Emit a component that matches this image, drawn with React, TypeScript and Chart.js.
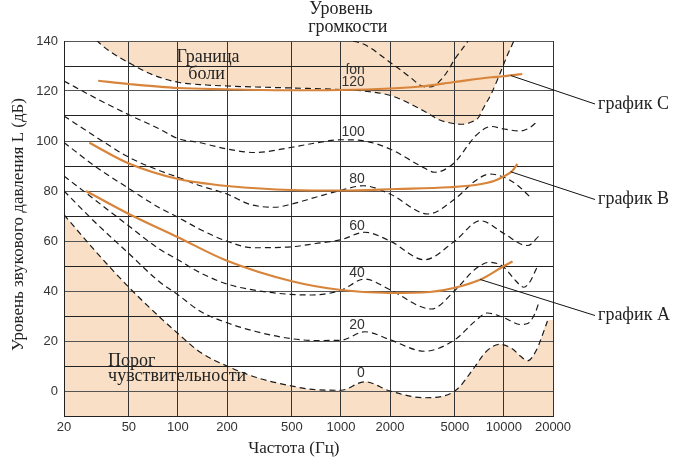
import React, { useEffect, useRef } from 'react';
import { Chart, registerables } from 'chart.js';

Chart.register(...registerables);

type Pt = [number, number];

// ---- axes ----
const freqTicks: number[] = [20, 50, 100, 200, 500, 1000, 2000, 5000, 10000, 20000];
const levelTickLabels: number[] = [0, 20, 40, 60, 80, 100, 120, 140];

// ---- equal-loudness contours: [frequency Hz, level dB] ----
const phon0: Pt[] = [
  [20, 70.5], [31.6, 55.5], [50, 41.5], [76, 30], [100, 23], [137, 15.5], [200, 10], [300, 5.5],
  [500, 2], [700, 0.5], [1000, 0.3], [1400, 3.7], [2000, 0], [3250, -2.7], [5000, 0], [6680, 10],
  [7650, 15.3], [9400, 18.7], [11300, 16.8], [12600, 14], [14000, 12.1], [15950, 16.8], [16700, 20], [18500, 28],
];
const thresholdShadeEdge: Pt[] = [[20000, 28.5]];

const phon20: Pt[] = [
  [20, 80], [31.6, 67], [50, 55], [76, 44], [100, 38.5], [137, 31.9], [200, 27.3], [300, 23.8],
  [500, 20.9], [700, 20.2], [1000, 20.3], [1400, 23.7], [2000, 20.5], [3250, 15.9], [5000, 20.5],
  [6680, 28], [7900, 31.2], [10000, 29.3], [12660, 26.6], [14000, 27], [15500, 31], [16500, 36],
];

const phon40: Pt[] = [
  [20, 86], [31.6, 76], [50, 66], [76, 57], [100, 52.5], [137, 47.3], [200, 42.8], [360, 39.5],
  [665, 38.4], [1000, 40.3], [1400, 44.8], [2000, 40.5], [3590, 32.8], [5000, 40.2], [6680, 48.8],
  [8190, 51.5], [10000, 49.5], [11800, 44.1], [13250, 41.5], [14540, 44], [15950, 49.5],
];

const phon60: Pt[] = [
  [20, 99.4], [31.6, 89.5], [50, 81], [76, 73.5], [100, 69.5], [137, 64.6], [200, 59.9], [291, 57.3],
  [500, 57.7], [700, 59], [1000, 60.5], [1400, 63.5], [2000, 60], [3250, 52.5], [5000, 60],
  [7150, 68.1], [10000, 63], [12660, 58.8], [14000, 58.2], [16400, 62],
];

const phon80: Pt[] = [
  [20, 110], [31.6, 101.5], [50, 93.5], [76, 88.3], [100, 85.5], [137, 82.1], [200, 78.8], [278, 74.6],
  [393, 73.5], [500, 74.8], [700, 77.5], [1000, 80.3], [1373, 82.1], [2000, 78.8], [3420, 70.8],
  [5000, 76.8], [6680, 84.1], [8190, 86.8], [10000, 85.5], [12000, 82.5], [14800, 77],
];

const phon100: Pt[] = [
  [20, 124], [31.6, 117], [50, 110.5], [76, 105], [100, 101], [137, 99.3], [200, 96.8], [300, 95.4],
  [500, 97.5], [700, 99.2], [1000, 100.5], [1400, 100], [2000, 96.8], [3090, 90], [3775, 87.5],
  [5000, 91.5], [6100, 98.8], [6680, 102], [8380, 105.8], [10000, 104.8], [12660, 104], [14540, 105.5], [16000, 107.8],
];

const phon120: Pt[] = [
  [27, 147], [31.6, 140.5], [40, 135], [50, 131.3], [70, 126.5], [100, 123.5], [150, 122.4], [200, 122],
  [300, 121.6], [500, 121.2], [1000, 120.6], [1373, 120], [2060, 118], [3230, 112], [4000, 108.5],
  [4900, 107], [5600, 106.7], [6200, 107.4], [7000, 109.5], [7315, 112], [8380, 119], [9600, 128],
  [10570, 134.8], [11490, 140], [12300, 145.5],
];

const upperContour: Pt[] = [
  [900, 141.5], [1000, 140.7], [1373, 138.8], [2000, 131.5], [2660, 125.5], [3090, 122.2], [3400, 121.6],
  [3775, 122.3], [4390, 126.8], [5000, 132.8], [6100, 140.6], [6400, 143],
];

// ---- weighting curves A, B, C ----
const curveA: Pt[] = [
  [27.3, 80], [50, 70.8], [100, 61.5], [200, 52.1], [500, 43.9], [1000, 40.4], [2000, 39.2],
  [3500, 39.6], [5000, 41.3], [7300, 44.8], [10000, 50], [11300, 51.8],
];
const curveB: Pt[] = [
  [28.6, 99.3], [50, 91], [100, 84.8], [157, 82.8], [200, 82], [500, 80.4], [1000, 80.2], [2180, 80.8],
  [4620, 81.5], [6680, 82.4], [8765, 84.1], [10000, 85.9], [11280, 88.1], [12090, 90.8],
];
const curveC: Pt[] = [
  [32.4, 124.1], [50, 122.8], [100, 121.2], [200, 120.7], [500, 120.3], [1000, 120.4], [2000, 121],
  [3090, 121.8], [5000, 123.6], [8380, 125.5], [10000, 125.9], [11280, 126.4], [12960, 126.8],
];

// ---- annotation text anchors (data coordinates) ----
const phonLabelFreq = 1403;
const phonLabels: { text: string; db: number }[] = [
  { text: 'fon', db: 128.4 }, { text: '120', db: 123.4 }, { text: '100', db: 103.4 },
  { text: '80', db: 84.8 }, { text: '60', db: 66 }, { text: '40', db: 47.2 },
  { text: '20', db: 26.4 }, { text: '0', db: 7.2 },
];
const graphLabels: { text: string; f: number; db: number; labelDb: number }[] = [
  { text: 'график C', f: 11000, db: 126.2, labelDb: 114.8 },
  { text: 'график B', f: 11000, db: 87.7, labelDb: 76.6 },
  { text: 'график A', f: 7160, db: 44.6, labelDb: 30.2 },
];

const SERIF = '"Liberation Serif", "Times New Roman", serif';
const SANS = '"Liberation Sans", Arial, sans-serif';
const ORANGE = '#d8843a';
const SHADE = '#f9dfc6';
const INK = '#1a1a1a';

const toXY = (pts: Pt[]) => pts.map(([x, y]) => ({ x, y }));

const annotations = {
  id: 'annotations',
  afterDraw(chart: any) {
    const { ctx, chartArea: a, scales } = chart;
    const xs = scales.x;
    const ys = scales.y;
    ctx.save();

    ctx.fillStyle = '#333';
    ctx.font = `14px ${SANS}`;
    ctx.textAlign = 'right';
    ctx.textBaseline = 'middle';
    const lx = xs.getPixelForValue(phonLabelFreq);
    for (const l of phonLabels) ctx.fillText(l.text, lx, ys.getPixelForValue(l.db));

    ctx.fillStyle = '#222';
    ctx.font = `18px ${SERIF}`;
    ctx.textBaseline = 'alphabetic';
    ctx.textAlign = 'center';
    ctx.fillText('Граница', xs.getPixelForValue(153), ys.getPixelForValue(131.6));
    ctx.fillText('боли', xs.getPixelForValue(150), ys.getPixelForValue(124.8));
    ctx.textAlign = 'left';
    ctx.fillText('Порог', xs.getPixelForValue(37.3), ys.getPixelForValue(10.2));
    ctx.fillText('чувствительности', xs.getPixelForValue(37.3), ys.getPixelForValue(4.2));
    ctx.fillText('Уровень', xs.getPixelForValue(640), a.top - 27);
    ctx.fillText('громкости', xs.getPixelForValue(630), a.top - 9);

    ctx.strokeStyle = '#111';
    ctx.lineWidth = 1;
    ctx.textBaseline = 'middle';
    for (const g of graphLabels) {
      const x0 = xs.getPixelForValue(g.f);
      const y0 = ys.getPixelForValue(g.db);
      const y1 = ys.getPixelForValue(g.labelDb);
      ctx.beginPath();
      ctx.moveTo(x0, y0);
      ctx.lineTo(a.right + 42, y1);
      ctx.stroke();
      ctx.fillText(g.text, a.right + 45, y1);
    }

    ctx.font = `17px ${SERIF}`;
    ctx.textAlign = 'center';
    ctx.fillText('Частота (Гц)', a.left + (a.right - a.left) * 0.47, a.bottom + 33);
    ctx.translate(19, (a.top + a.bottom) / 2 - 4);
    ctx.rotate(-Math.PI / 2);
    ctx.fillText('Уровень звукового давления L (дБ)', 0, 0);
    ctx.restore();
  },
};

const dashed = (label: string, pts: Pt[], extra: any = {}) => ({
  label,
  data: toXY(pts),
  borderColor: INK,
  borderWidth: 1.2,
  borderDash: [6, 4],
  pointRadius: 0,
  fill: false,
  cubicInterpolationMode: 'monotone',
  order: 1,
  ...extra,
});

const solid = (label: string, pts: Pt[]) => ({
  label,
  data: toXY(pts),
  borderColor: ORANGE,
  borderWidth: 2.2,
  pointRadius: 0,
  fill: false,
  cubicInterpolationMode: 'monotone',
  order: 0,
});

export default function App() {
  const ref = useRef<HTMLCanvasElement | null>(null);

  useEffect(() => {
    if (!ref.current) return;
    const chart = new Chart(ref.current, {
      type: 'line',
      data: {
        datasets: [
          solid('график A', curveA),
          solid('график B', curveB),
          solid('график C', curveC),
          dashed('120', phon120, { fill: 'end', backgroundColor: SHADE }),
          dashed('upper', upperContour),
          dashed('100', phon100),
          dashed('80', phon80),
          dashed('60', phon60),
          dashed('40', phon40),
          dashed('20', phon20),
          dashed('0', phon0),
          {
            label: 'threshold-shade',
            data: toXY([...phon0, ...thresholdShadeEdge]),
            borderColor: 'rgba(0,0,0,0)',
            borderWidth: 0,
            pointRadius: 0,
            fill: 'start',
            backgroundColor: SHADE,
            cubicInterpolationMode: 'monotone',
            order: 2,
          },
        ] as any,
      },
      options: {
        responsive: false,
        animation: false,
        devicePixelRatio: 1,
        layout: { padding: { left: 0, top: 41, right: 127, bottom: 0 } },
        plugins: {
          legend: { display: false },
          tooltip: { enabled: false },
          filler: { propagate: false, drawTime: 'beforeDraw' } as any,
        },
        scales: {
          x: {
            type: 'logarithmic',
            min: 20,
            max: 20000,
            afterBuildTicks: (s: any) => {
              s.ticks = freqTicks.map((v) => ({ value: v }));
            },
            afterFit: (s: any) => {
              s.height = 49;
            },
            ticks: {
              autoSkip: false,
              maxRotation: 0,
              minRotation: 0,
              padding: 4,
              color: '#333',
              font: { family: SANS, size: 13 },
              callback: (v: any) => String(v),
            },
            grid: { color: '#333', lineWidth: 1, drawTicks: false },
            border: { color: '#222', width: 1 },
          },
          y: {
            type: 'linear',
            min: -10,
            max: 140,
            afterFit: (s: any) => {
              s.width = 64;
            },
            ticks: {
              stepSize: 10,
              autoSkip: false,
              padding: 6,
              color: '#333',
              font: { family: SANS, size: 13 },
              callback: (v: any) => (levelTickLabels.includes(Number(v)) ? String(v) : ''),
            },
            grid: {
              drawTicks: false,
              lineWidth: 1,
              color: (c: any) => (c.tick && c.tick.value % 20 === 0 ? '#555' : '#222'),
            },
            border: { color: '#222', width: 1 },
          },
        },
      },
      plugins: [annotations],
    } as any);
    return () => chart.destroy();
  }, []);

  return (
    <div style={{ position: 'absolute', left: 0, top: 0, width: 680, height: 465, background: '#fff' }}>
      <canvas ref={ref} width={680} height={465} style={{ display: 'block', width: 680, height: 465 }} />
    </div>
  );
}
